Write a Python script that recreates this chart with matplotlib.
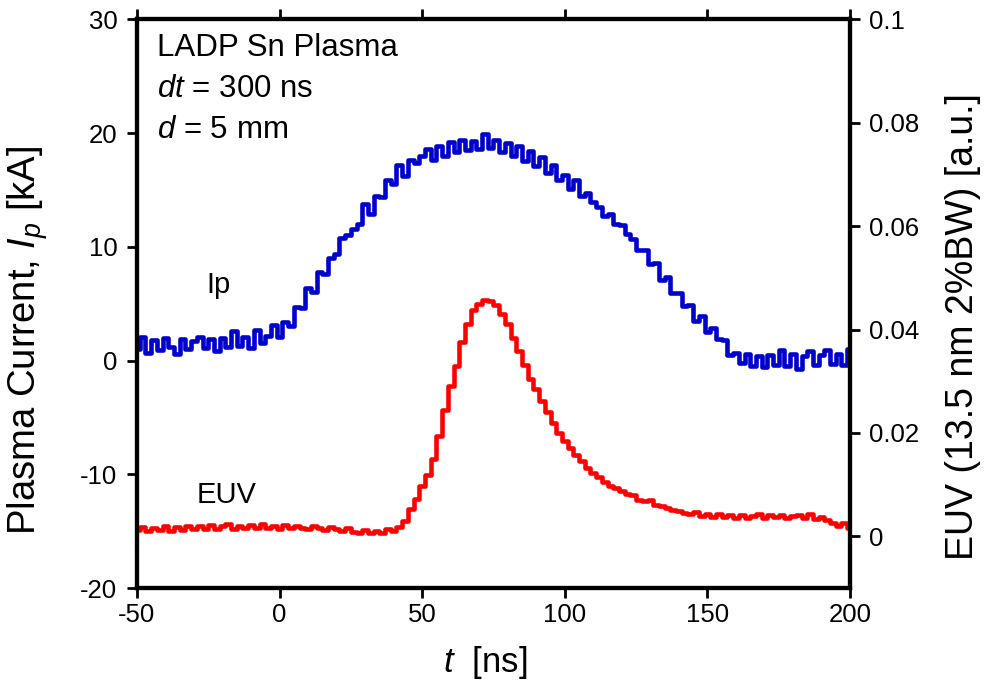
import matplotlib
matplotlib.use("Agg")
import matplotlib.pyplot as plt
import numpy as np

plt.rcParams['font.family'] = ['Liberation Sans', 'DejaVu Sans']
plt.rcParams['mathtext.fontset'] = 'custom'
plt.rcParams['mathtext.rm'] = 'Liberation Sans'
plt.rcParams['mathtext.it'] = 'Liberation Sans:italic'
plt.rcParams['axes.unicode_minus'] = False

# time axis, 2 ns sampling
t = np.arange(-50, 201, 2)

# plasma current Ip [kA]
ip = [1.0, 2.1, 0.7, 1.8, 0.9, 2.0, 1.2, 0.6, 1.9, 1.0, 1.7,
      2.1, 1.1, 1.9, 0.8, 2.0, 1.2, 2.6, 1.3, 2.1, 1.1,
      2.7, 1.5, 2.2, 3.1, 2.1,
      3.4, 3.0, 4.7, 4.6, 6.4,
      6.0, 7.8, 7.6, 9.0, 9.4,
      10.8, 11.0, 11.6, 12.0, 13.8,
      12.9, 14.5, 14.4, 15.9, 15.5,
      17.2, 16.2, 17.6, 17.4, 18.0,
      18.6, 17.6, 18.9, 18.0, 19.2,
      18.3, 19.4, 18.5, 19.3, 18.6,
      19.9, 18.7, 19.4, 18.3, 19.1,
      18.0, 18.9, 17.5, 18.4, 17.1,
      17.9, 16.5, 17.2, 15.9, 16.3,
      15.1, 15.9, 14.5, 14.7, 13.9,
      13.5, 12.7, 12.9, 12.0, 11.9,
      11.1, 10.7, 9.7, 9.7, 8.5,
      8.6, 7.1, 7.3, 5.9, 5.9,
      4.8, 4.9, 3.5, 3.9, 2.5,
      2.9, 1.9, 1.8, 0.5, 0.7,
      -0.2, 0.6, -0.5, 0.4, -0.6,
      0.5, -0.4, 0.9, -0.5, 0.6,
      -0.7, 0.4, 0.8, -0.4, 0.5,
      0.9, -0.3, 0.6, -0.4, 1.0]

# EUV signal (13.5 nm 2%BW) [a.u.]
euv = [0.0012, 0.0019, 0.0010, 0.0017, 0.0012, 0.0020, 0.0011, 0.0018, 0.0013, 0.0020,
       0.0014, 0.0021, 0.0015, 0.0022, 0.0014, 0.0020, 0.0023, 0.0015, 0.0021, 0.0016,
       0.0022, 0.0017, 0.0023, 0.0016, 0.0021, 0.0015,
       0.0022, 0.0016, 0.0021, 0.0017, 0.0015, 0.0020, 0.0016, 0.0013, 0.0019, 0.0014,
       0.0011, 0.0017, 0.0009, 0.0006, 0.0013, 0.0006, 0.0011, 0.0007, 0.0014, 0.0011,
       0.0018, 0.0030, 0.0052, 0.0072, 0.0098, 0.0118, 0.0150, 0.0195, 0.0245, 0.0290,
       0.0330, 0.0375, 0.0410, 0.0438, 0.0450, 0.0458, 0.0455, 0.0448, 0.0430, 0.0410,
       0.0383, 0.0358, 0.0332, 0.0305, 0.0285, 0.0262, 0.0240, 0.0220, 0.0200, 0.0184,
       0.0170, 0.0158, 0.0145, 0.0132, 0.0122, 0.0114, 0.0106, 0.0098, 0.0093, 0.0088,
       0.0081, 0.0080, 0.0071, 0.0068, 0.0071, 0.0061, 0.0058, 0.0055, 0.0051, 0.0049,
       0.0045, 0.0044, 0.0048, 0.0040, 0.0043, 0.0038, 0.0043, 0.0037, 0.0042, 0.0036,
       0.0041, 0.0035, 0.0040, 0.0043, 0.0036, 0.0041, 0.0037, 0.0042, 0.0035, 0.0040,
       0.0041, 0.0036, 0.0043, 0.0034, 0.0038, 0.0032, 0.0026, 0.0021, 0.0025, 0.0016]

fig = plt.figure(figsize=(9.85, 6.87), dpi=100)
ax = fig.add_axes([0.139, 0.144, 0.724, 0.828])
ax2 = ax.twinx()

ax.plot(t, ip, color='#0000cc', lw=3.3, drawstyle='steps-mid')
ax2.plot(t, euv, color='#ff0000', lw=3.3, drawstyle='steps-mid')

ax.set_xlim(-50, 200)
ax.set_ylim(-20, 30)
ax2.set_ylim(-0.01, 0.1)
ax.set_xticks([-50, 0, 50, 100, 150, 200])
ax.set_yticks([-20, -10, 0, 10, 20, 30])
ax2.set_yticks([0, 0.02, 0.04, 0.06, 0.08, 0.1])
ax2.set_yticklabels(['0', '0.02', '0.04', '0.06', '0.08', '0.1'])

for a in (ax, ax2):
    for s in a.spines.values():
        s.set_linewidth(3)
    a.tick_params(direction='out', length=7, width=2, labelsize=18.5, pad=7)
ax.tick_params(axis='x', top=True, pad=4)

ax.set_xlabel('$t$  [ns]', fontsize=25)
ax.xaxis.set_label_coords(0.488, -0.098)
ax.set_ylabel('Plasma Current, $I_p$ [kA]', fontsize=27.5)
ax.yaxis.set_label_coords(-0.122, 0.436)
ax2.set_ylabel('EUV (13.5 nm 2%BW) [a.u.]', fontsize=27)
ax2.yaxis.set_label_coords(1.133, 0.459)

ax.text(-43, 27.5, 'LADP Sn Plasma', fontsize=22.5, va='center')
ax.text(-43, 23.9, '$dt$ = 300 ns', fontsize=22.5, va='center')
ax.text(-43, 20.3, '$d$ = 5 mm', fontsize=22.5, va='center')
ax.text(-25.5, 6.6, 'Ip', fontsize=21, va='center')
ax.text(-29, -11.8, 'EUV', fontsize=21, va='center')

fig.savefig('out.png', dpi=100)
